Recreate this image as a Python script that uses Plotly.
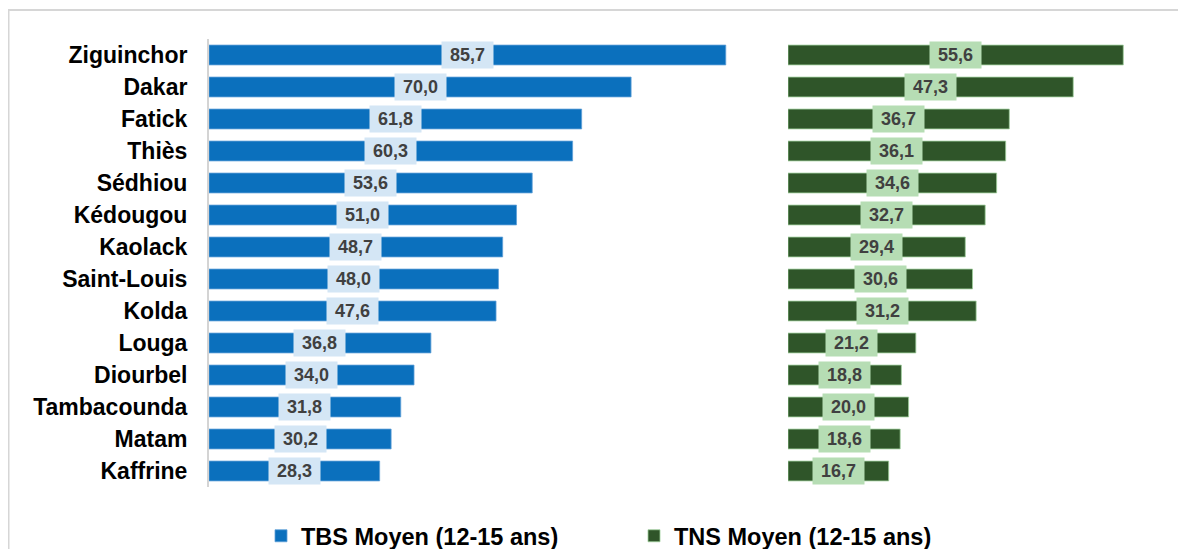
import plotly.graph_objects as go

regions = ["Ziguinchor", "Dakar", "Fatick", "Thiès", "Sédhiou", "Kédougou", "Kaolack",
           "Saint-Louis", "Kolda", "Louga", "Diourbel", "Tambacounda", "Matam", "Kaffrine"]
tbs = [85.7, 70.0, 61.8, 60.3, 53.6, 51.0, 48.7, 48.0, 47.6, 36.8, 34.0, 31.8, 30.2, 28.3]
tns = [55.6, 47.3, 36.7, 36.1, 34.6, 32.7, 29.4, 30.6, 31.2, 21.2, 18.8, 20.0, 18.6, 16.7]

W, H = 1186, 549
OFF = 8  # page body margin
BLUE = "#0b70bd"
GREEN = "#2f5529"
BLUE_LBL = "#d4e6f5"
GREEN_LBL = "#b6ddb4"
FONT = "Liberation Sans, Arial"

def px(x):
    return (x - OFF) / W

def py(y):
    return 1 - (y - OFF) / H

fig = go.Figure()
fig.add_trace(go.Bar(y=regions, x=tbs, orientation="h", name="<b>TBS Moyen (12-15 ans)</b>",
                     marker=dict(color=BLUE, line=dict(color="#5fa0d8", width=0.8)),
                     width=0.62, xaxis="x", yaxis="y", legend="legend"))
fig.add_trace(go.Bar(y=regions, x=tns, orientation="h", name="<b>TNS Moyen (12-15 ans)</b>",
                     marker=dict(color=GREEN, line=dict(color="#9fcf9c", width=0.8)),
                     width=0.62, xaxis="x2", yaxis="y2", legend="legend2"))

fmt = lambda v: f"{v:.1f}".replace(".", ",")
annotations = []
for r, v in zip(regions, tbs):
    annotations.append(dict(x=v / 2, y=r, xref="x", yref="y",
                            text=f"&nbsp;<b>{fmt(v)}</b>&nbsp;",
                            showarrow=False, bgcolor=BLUE_LBL, borderpad=3,
                            font=dict(family=FONT, size=18, color="#404040")))
for r, v in zip(regions, tns):
    annotations.append(dict(x=v / 2, y=r, xref="x2", yref="y2",
                            text=f"&nbsp;<b>{fmt(v)}</b>&nbsp;",
                            showarrow=False, bgcolor=GREEN_LBL, borderpad=3,
                            font=dict(family=FONT, size=18, color="#404040")))

ydom = [py(487), py(39)]
leg_common = dict(orientation="h", xanchor="left", yanchor="middle",
                  font=dict(size=23.5, color="#000000", family=FONT),
                  itemwidth=30, bgcolor="rgba(0,0,0,0)")
fig.update_layout(
    width=W, height=H,
    margin=dict(l=0, r=0, t=0, b=0, autoexpand=False),
    plot_bgcolor="white", paper_bgcolor="white",
    font=dict(family=FONT, color="#000000"),
    showlegend=True,
    legend=dict(x=px(261), y=py(536), **leg_common),
    legend2=dict(x=px(634), y=py(536), **leg_common),
    xaxis=dict(domain=[px(209), px(209 + 90 * 6.03)], range=[0, 90], showgrid=False,
               showticklabels=False, zeroline=False, showline=False),
    xaxis2=dict(domain=[px(788), px(788 + 60 * 6.03)], range=[0, 60], showgrid=False,
                showticklabels=False, zeroline=False, showline=False, anchor="y2"),
    yaxis=dict(domain=ydom, range=[13.5, -0.5], anchor="x", showgrid=False,
               showline=True, linecolor="#d4d4d4", linewidth=2,
               tickfont=dict(size=23, family=FONT, color="#000"),
               ticks="", ticklabelstandoff=15,
               tickprefix="<b>", ticksuffix="</b>"),
    yaxis2=dict(domain=ydom, range=[13.5, -0.5], anchor="x2", showgrid=False,
                showline=False, showticklabels=False, ticks=""),
    annotations=annotations,
    shapes=[dict(type="rect", xref="paper", yref="paper", x0=px(8.5), x1=px(1220),
                 y0=py(620), y1=py(10), line=dict(color="#d6d6d6", width=2))],
)

fig.write_html("out.html")
